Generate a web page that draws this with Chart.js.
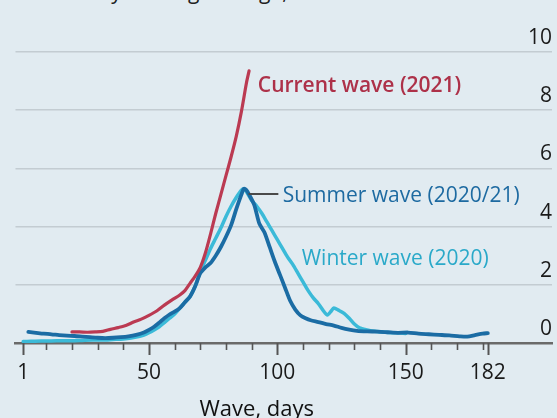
<!DOCTYPE html>
<html>
<head>
<meta charset="utf-8">
<script src="https://cdn.jsdelivr.net/npm/chart.js@4.4.1/dist/chart.umd.min.js"></script>
<style>
  html, body { margin: 0; padding: 0; background: #e1ebf1; overflow: hidden; }
  #wrap { position: relative; width: 557px; height: 418px; }
  #sub { position: absolute; left: 68px; top: -23px; font: 21px "Open Sans", sans-serif; color: #222; white-space: nowrap; }
  canvas { position: absolute; left: 0; top: 0; }
</style>
</head>
<body>
<div id="wrap">
  <div id="sub">7-day moving average, '000</div>
  <canvas id="chart" width="557" height="418"></canvas>
</div>
<script>
// Current wave (2021)
const currentDays = [20, 23, 26, 29, 32, 35, 38, 41, 44, 47, 50, 53, 56, 59, 62, 64, 66, 68, 70, 72, 74, 76, 78, 80, 82, 84, 86, 88, 89];
const currentVals = [0.38, 0.38, 0.37, 0.38, 0.4, 0.47, 0.53, 0.6, 0.72, 0.82, 0.95, 1.1, 1.3, 1.48, 1.65, 1.8, 2.05, 2.3, 2.6, 3.1, 3.75, 4.45, 5.1, 5.75, 6.4, 7.1, 7.95, 8.95, 9.35];

// Summer wave (2020/21)
const summerDays = [3, 6, 9, 12, 15, 18, 21, 24, 27, 30, 33, 36, 39, 42, 45, 48, 50, 52, 54, 56, 58, 60, 62, 64, 66, 68, 70, 72, 74, 76, 78, 80, 82, 84, 86, 87, 88, 89, 91, 93, 95, 97, 99, 101, 103, 105, 107, 109, 111, 113, 116, 119, 122, 125, 128, 131, 135, 139, 143, 147, 151, 155, 159, 163, 167, 171, 174, 177, 180, 182];
const summerVals = [0.38, 0.35, 0.32, 0.3, 0.27, 0.25, 0.24, 0.22, 0.2, 0.18, 0.17, 0.18, 0.2, 0.23, 0.28, 0.36, 0.45, 0.56, 0.7, 0.85, 0.98, 1.08, 1.2, 1.4, 1.6, 1.95, 2.4, 2.6, 2.75, 3.0, 3.3, 3.65, 4.05, 4.6, 5.1, 5.3, 5.25, 5.1, 4.75, 4.1, 3.8, 3.3, 2.8, 2.35, 1.9, 1.45, 1.15, 0.95, 0.85, 0.78, 0.72, 0.65, 0.6, 0.52, 0.46, 0.42, 0.4, 0.39, 0.37, 0.35, 0.36, 0.32, 0.3, 0.28, 0.26, 0.23, 0.22, 0.27, 0.32, 0.34];

// Winter wave (2020)
const winterDays = [1, 4, 8, 12, 16, 20, 24, 28, 32, 36, 40, 43, 46, 48, 50, 52, 54, 56, 58, 60, 62, 64, 66, 68, 70, 72, 74, 76, 78, 80, 82, 84, 86, 87, 88, 90, 92, 94, 96, 98, 100, 102, 104, 106, 108, 110, 112, 114, 116, 118, 119.5, 121, 122, 124, 126, 128, 130, 132, 135, 138, 142, 146, 150];
const winterVals = [0.05, 0.06, 0.07, 0.07, 0.08, 0.08, 0.09, 0.1, 0.1, 0.12, 0.14, 0.17, 0.22, 0.27, 0.35, 0.45, 0.56, 0.7, 0.85, 1.0, 1.2, 1.4, 1.6, 1.95, 2.45, 2.85, 3.25, 3.6, 3.95, 4.35, 4.7, 5.0, 5.25, 5.3, 5.2, 4.9, 4.7, 4.45, 4.15, 3.85, 3.55, 3.25, 2.95, 2.7, 2.4, 2.1, 1.8, 1.55, 1.35, 1.1, 0.96, 1.1, 1.2, 1.12, 1.02, 0.85, 0.65, 0.52, 0.45, 0.4, 0.37, 0.35, 0.33];

const xTicks = [1, 10, 20, 30, 40, 50, 60, 70, 80, 90, 100, 110, 120, 130, 140, 150, 160, 170, 180, 182];
const xLabels = [1, 50, 100, 150, 182];
const yTicks = [0, 2, 4, 6, 8, 10];

const RED = '#bb3a52', DARK = '#1b6ca4', LIGHT = '#3bbad8';
const FONT = '"Open Sans", sans-serif';

// labels placed in data space (day, value)
const notes = [
  { text: 'Current wave (2021)', day: 92.4, val: 8.83, color: '#ad3149', weight: '600' },
  { text: 'Summer wave (2020/21)', day: 102.1, val: 5.05, color: '#1d6aa1', weight: '400' },
  { text: 'Winter wave (2020)', day: 109.5, val: 2.89, color: '#2aa9c9', weight: '400' }
];
const leader = { from: 88.8, to: 100.4, val: 5.12 };
const axisTitle = { text: 'Wave, days', day: 92 };

const pts = (d, v) => d.map((x, i) => ({ x: x, y: v[i] }));

const notePlugin = {
  id: 'notes',
  afterDatasetsDraw(chart) {
    const { ctx, chartArea, scales: { x, y } } = chart;
    ctx.save();
    // tick marks, longer on labelled days
    ctx.strokeStyle = '#555';
    xTicks.forEach(v => {
      const px = Math.round(x.getPixelForValue(v)) + 0.5;
      const major = xLabels.includes(v);
      ctx.lineWidth = major ? 2 : 1.6;
      ctx.beginPath();
      ctx.moveTo(px, chartArea.bottom);
      ctx.lineTo(px, chartArea.bottom + (major ? 12 : 7));
      ctx.stroke();
    });
    // leader line to summer label
    ctx.strokeStyle = '#4a4a4a';
    ctx.lineWidth = 2;
    ctx.beginPath();
    ctx.moveTo(x.getPixelForValue(leader.from), y.getPixelForValue(leader.val));
    ctx.lineTo(x.getPixelForValue(leader.to), y.getPixelForValue(leader.val));
    ctx.stroke();
    ctx.textBaseline = 'middle';
    notes.forEach(n => {
      ctx.font = n.weight + ' 21px ' + FONT;
      ctx.fillStyle = n.color;
      ctx.fillText(n.text, x.getPixelForValue(n.day), y.getPixelForValue(n.val));
    });
    ctx.font = '22px ' + FONT;
    ctx.fillStyle = '#111';
    ctx.textAlign = 'center';
    ctx.fillText(axisTitle.text, x.getPixelForValue(axisTitle.day), 410);
    ctx.restore();
  }
};

new Chart(document.getElementById('chart'), {
  type: 'line',
  data: {
    datasets: [
      { label: 'Current wave (2021)', data: pts(currentDays, currentVals), borderColor: RED, borderWidth: 3.2, order: 1 },
      { label: 'Summer wave (2020/21)', data: pts(summerDays, summerVals), borderColor: DARK, borderWidth: 3.8, order: 2 },
      { label: 'Winter wave (2020)', data: pts(winterDays, winterVals), borderColor: LIGHT, borderWidth: 3.5, order: 3 }
    ]
  },
  options: {
    responsive: false,
    animation: false,
    elements: { point: { radius: 0 }, line: { tension: 0.25, borderCapStyle: 'round', borderJoinStyle: 'round' } },
    layout: { padding: { left: 13, right: 5, top: 52, bottom: 0 } },
    plugins: { legend: { display: false }, tooltip: { enabled: false } },
    scales: {
      x: {
        type: 'linear',
        min: -2,
        max: 207,
        afterBuildTicks: s => { s.ticks = xTicks.map(v => ({ value: v })); },
        afterFit: s => { s.height = 75; },
        grid: { drawOnChartArea: false, drawTicks: false },
        border: { color: '#6a6a6a', width: 2.5 },
        ticks: {
          autoSkip: false,
          maxRotation: 0,
          padding: 17,
          color: '#1a1a1a',
          font: { family: FONT, size: 21 },
          callback: v => xLabels.includes(v) ? String(v) : ''
        }
      },
      y: {
        position: 'right',
        min: 0,
        max: 10,
        afterBuildTicks: s => { s.ticks = yTicks.map(v => ({ value: v })); },
        afterFit: s => { s.width = 0; },
        grid: { drawTicks: false, color: c => c.tick.value === 0 ? 'rgba(0,0,0,0)' : '#c3ccd2', lineWidth: 1.5 },
        border: { display: false },
        ticks: {
          mirror: true,
          padding: 0,
          labelOffset: -14,
          color: '#1a1a1a',
          font: { family: FONT, size: 21 }
        }
      }
    }
  },
  plugins: [notePlugin]
});
</script>
</body>
</html>
